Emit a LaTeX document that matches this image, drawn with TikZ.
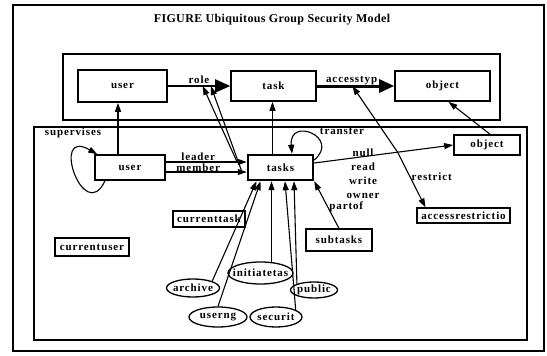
\documentclass[tikz,border=0pt]{standalone}
\usepackage{fontspec}
\setmainfont{Liberation Serif}
\newfontfamily\gsmfam[LetterSpace=8]{Liberation Serif}
\newfontfamily\gsmtitlefam[LetterSpace=3]{Liberation Serif}
\newcommand{\gsmfont}{\gsmfam\bfseries\fontsize{11}{14}\selectfont}
\newcommand{\gsmtitle}{\gsmtitlefam\bfseries\fontsize{12}{14}\selectfont}
\usetikzlibrary{arrows.meta,shapes.geometric}

\begin{document}
\begin{tikzpicture}[x=1pt, y=-1pt,
    ent/.style={draw, line width=1.6pt, inner sep=0pt, font=\gsmfont},
    rel/.style={draw, ellipse, line width=1.3pt, inner xsep=-6pt, inner ysep=0pt, font=\gsmfont},
    lbl/.style={font=\gsmfont, inner sep=1pt},
    arr/.style={line width=1.1pt, -{Triangle[length=9pt,width=6pt]}},
    bigarr/.style={-{Triangle[length=15pt,width=13pt]}},
  ]
  \useasboundingbox (0,0) rectangle (547,356);

  % frames
  \draw[line width=2pt] (13,5) rectangle (544,351);
  \draw[line width=1.6pt] (63,54) rectangle (500,120);
  \draw[line width=1.6pt] (34,127) rectangle (527,340);

  \node[font=\gsmtitle] (title) at (272,20) {FIGURE Ubiquitous Group Security Model};

  % upper level
  \node[ent, minimum width=89pt, minimum height=32pt] (tuser) at (122.5,86) {user};
  \node[ent, minimum width=85pt, minimum height=30pt] (ttask) at (273.5,86) {task};
  \node[ent, minimum width=95pt, minimum height=30pt] (tobject) at (442.5,86) {object};

  \draw[line width=2pt, bigarr] (tuser) -- node[lbl, above] (rolelbl) {role}
    coordinate[pos=0.56] (r1) coordinate[pos=0.69] (r2) (ttask);
  \draw[line width=3pt, bigarr] (ttask) -- node[lbl, above, inner sep=0pt, pos=0.45] (acclbl) {accesstyp}
    coordinate[pos=0.46] (acct) (tobject);

  % lower level
  \node[ent, minimum width=70pt, minimum height=25pt] (luser) at (130,167.5) {user};
  \node[ent, line width=2.4pt, minimum width=65pt, minimum height=25pt] (ltasks) at (280.5,167.5) {tasks};
  \node[ent, minimum width=66pt, minimum height=20pt] (lobject) at (487,145) {object};
  \node[ent, line width=1.2pt, minimum width=93pt, minimum height=15pt] (accrestr) at (463.5,215.5) {accessrestrictio};
  \node[ent, line width=1.2pt, minimum width=72pt, minimum height=16pt] (curtask) at (209,219) {currenttask};
  \node[ent, line width=1.2pt, minimum width=74pt, minimum height=18pt] (curuser) at (92,247) {currentuser};
  \node[ent, line width=1.2pt, minimum width=66pt, minimum height=22pt] (subtasks) at (339,240) {subtasks};

  \node[rel, minimum width=53pt, minimum height=18pt] (archive) at (193,288) {archive};
  \node[rel, minimum width=65pt, minimum height=22pt] (initiate) at (260.5,273) {initiatetas};
  \node[rel, minimum width=47pt, minimum height=16pt] (public) at (314,290) {public};
  \node[rel, minimum width=58pt, minimum height=20pt] (userng) at (218,317) {userng};
  \node[rel, minimum width=52pt, minimum height=20pt] (securit) at (276,317) {securit};

  % supervises
  \draw[arr] ([xshift=-25pt]luser.south) .. controls +(-115:50pt) and +(150:55pt) .. ([xshift=3pt]luser.north west);
  \node[lbl] (suplbl) at (73,133) {supervises};

  % lower user and tasks up to the upper ones
  \draw[arr] ([xshift=-12pt]luser.north) -- ([xshift=-12pt]luser.north |- tuser.south);
  \draw[arr] ([xshift=-8pt]ltasks.north) -- ([xshift=-8pt]ltasks.north |- ttask.south);

  % leader / member
  \draw[arr] ([yshift=5.5pt]luser.east) -- node[lbl, above, pos=0.4] (leadlbl) {leader}
    coordinate[pos=0.88] (lead) ([yshift=5.5pt]ltasks.west);
  \draw[arr] ([yshift=-4.5pt]luser.east) -- node[lbl, above, pos=0.4, inner sep=0pt] (memlbl) {member}
    coordinate[pos=0.94] (memb) ([yshift=-4.5pt]ltasks.west);
  \draw[arr] (lead) -- (r1);
  \draw[arr] (memb) -- (r2);

  % transfer
  \draw[arr] ([yshift=7.5pt]ltasks.east) .. controls +(40:35pt) and +(95:38pt) .. ([xshift=11.5pt]ltasks.north);
  \node[lbl] (translbl) at (342,131) {transfer};

  % access rights on objects
  \draw[arr] ([yshift=4.5pt]ltasks.east) -- coordinate[pos=0.6] (perm) (lobject.west);
  \node[lbl, align=center] (permlbl) at (363,174) {null\\read\\write\\owner};
  \draw[arr] (perm) -- node[lbl, right, pos=0.45] (restrlbl) {restrict} ([xshift=-38pt]accrestr.north);
  \draw[arr] (perm) -- (acct);
  \draw[arr] ([xshift=3pt]lobject.north) -- ([xshift=6pt]tobject.south);

  % into tasks
  \draw[arr] (archive.north east) -- ([xshift=-24pt]ltasks.south);
  \draw[arr] (userng.north) -- ([xshift=-20pt]ltasks.south);
  \draw[arr] (initiate.45) -- (initiate.45 |- ltasks.south);
  \draw[arr] (securit.20) -- ([xshift=4.5pt]ltasks.south);
  \draw[arr] (public.north west) -- ([xshift=13.5pt]ltasks.south);
  \draw[arr] (subtasks.north) -- node[lbl, right, pos=0.45] (partlbl) {partof} (ltasks.south east);
\end{tikzpicture}
\end{document}
